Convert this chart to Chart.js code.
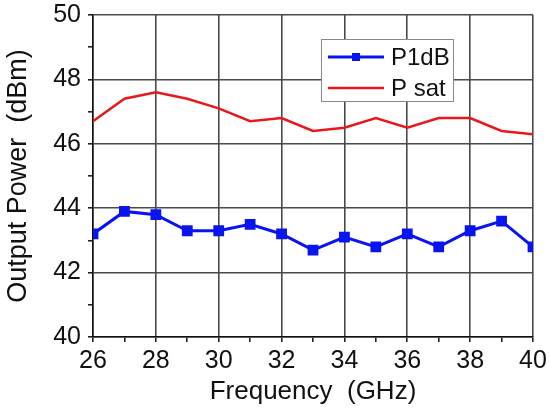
<!DOCTYPE html>
<html>
<head>
<meta charset="utf-8">
<script src="https://cdn.jsdelivr.net/npm/chart.js@4.4.1/dist/chart.umd.min.js"></script>
<style>
  html, body { margin: 0; padding: 0; background: #fff; }
  #wrap { width: 550px; height: 408px; }
</style>
</head>
<body>
<div id="wrap"><canvas id="chart"></canvas></div>
<script>
// Data
const frequency = [26, 27, 28, 29, 30, 31, 32, 33, 34, 35, 36, 37, 38, 39, 40];
const p1dB = [43.2, 43.9, 43.8, 43.3, 43.3, 43.5, 43.2, 42.7, 43.1, 42.8, 43.2, 42.8, 43.3, 43.6, 42.8];
const pSat = [46.7, 47.4, 47.6, 47.4, 47.1, 46.7, 46.8, 46.4, 46.5, 46.8, 46.5, 46.8, 46.8, 46.4, 46.3];
const xTicks = [26, 28, 30, 32, 34, 36, 38, 40];
const yTicks = [40, 42, 44, 46, 48, 50];

const FONT = "'Liberation Sans', Arial, sans-serif";
const gridColor = "#4a4a4a";

const toPoints = (ys) => frequency.map((f, i) => ({ x: f, y: ys[i] }));
const isMajor = (list, v) => list.includes(v);

// Legend box drawn inside the plot, top right
const boxLegend = {
  id: "boxLegend",
  afterDraw(chart) {
    const { ctx, chartArea } = chart;
    const x = chartArea.left + 228, y = chartArea.top + 24;
    const w = 132, h = 62;
    ctx.save();
    ctx.fillStyle = "#fff";
    ctx.fillRect(x, y, w, h);
    ctx.strokeStyle = "#888";
    ctx.lineWidth = 1;
    ctx.strokeRect(x + 0.5, y + 0.5, w, h);
    chart.data.datasets.forEach((ds, i) => {
      const cy = y + 18 + i * 31;
      ctx.strokeStyle = ds.borderColor;
      ctx.lineWidth = ds.borderWidth;
      ctx.beginPath();
      ctx.moveTo(x + 7, cy);
      ctx.lineTo(x + 63, cy);
      ctx.stroke();
      if (ds.pointRadius > 0) {
        ctx.fillStyle = ds.borderColor;
        ctx.fillRect(x + 35 - 4, cy - 4, 8, 8);
      }
      ctx.fillStyle = "#111";
      ctx.font = "24px " + FONT;
      ctx.textBaseline = "middle";
      ctx.fillText(ds.label, x + 70, cy + 1);
    });
    ctx.restore();
  }
};

new Chart(document.getElementById("chart"), {
  type: "line",
  data: {
    datasets: [
      {
        label: "P1dB",
        data: toPoints(p1dB),
        borderColor: "#0a14f0",
        backgroundColor: "#0a14f0",
        borderWidth: 3,
        pointStyle: "rect",
        pointRadius: 5.5,
        pointHoverRadius: 5.5,
        tension: 0
      },
      {
        label: "P sat",
        data: toPoints(pSat),
        borderColor: "#e8191c",
        backgroundColor: "#e8191c",
        borderWidth: 2.5,
        pointRadius: 0,
        tension: 0
      }
    ]
  },
  options: {
    responsive: true,
    maintainAspectRatio: false,
    animation: false,
    events: [],
    layout: { padding: { top: 15, right: 17, left: 0, bottom: 0 } },
    plugins: { legend: { display: false }, tooltip: { enabled: false } },
    scales: {
      x: {
        type: "linear",
        min: 26,
        max: 40,
        afterFit: (s) => { s.height = 71; s.paddingLeft = 0; s.paddingRight = 0; },
        afterBuildTicks: (s) => { s.ticks = frequency.map((v) => ({ value: v })); },
        ticks: {
          color: "#111",
          font: { family: FONT, size: 25 },
          padding: 4,
          autoSkip: false,
          maxRotation: 0,
          callback: (v) => (isMajor(xTicks, v) ? String(v) : "")
        },
        grid: {
          color: (c) => (isMajor(xTicks, c.tick.value) ? gridColor : "rgba(0,0,0,0)"),
          tickColor: "#222",
          lineWidth: 1.6,
          tickLength: 5
        },
        border: { color: "#111", width: 1.5 },
        title: {
          display: true,
          text: "Frequency  (GHz)",
          color: "#111",
          font: { family: FONT, size: 26 },
          padding: { top: 0, bottom: 1 }
        }
      },
      y: {
        min: 40,
        max: 50,
        afterFit: (s) => { s.width = 93; s.paddingTop = 0; s.paddingBottom = 0; },
        afterBuildTicks: (s) => {
          const t = [];
          for (let v = 40; v <= 50; v++) t.push({ value: v });
          s.ticks = t;
        },
        ticks: {
          color: "#111",
          font: { family: FONT, size: 25, lineHeight: 1 },
          padding: 7,
          autoSkip: false,
          callback: (v) => (isMajor(yTicks, v) ? String(v) : "")
        },
        grid: {
          color: (c) => (isMajor(yTicks, c.tick.value) ? gridColor : "rgba(0,0,0,0)"),
          tickColor: "#222",
          lineWidth: 1.6,
          tickLength: 5
        },
        border: { color: "#111", width: 1.5 },
        title: {
          display: true,
          text: "Output Power  (dBm)",
          color: "#111",
          font: { family: FONT, size: 27 },
          padding: { top: 2, bottom: 0 }
        }
      }
    }
  },
  plugins: [boxLegend]
});
</script>
</body>
</html>
